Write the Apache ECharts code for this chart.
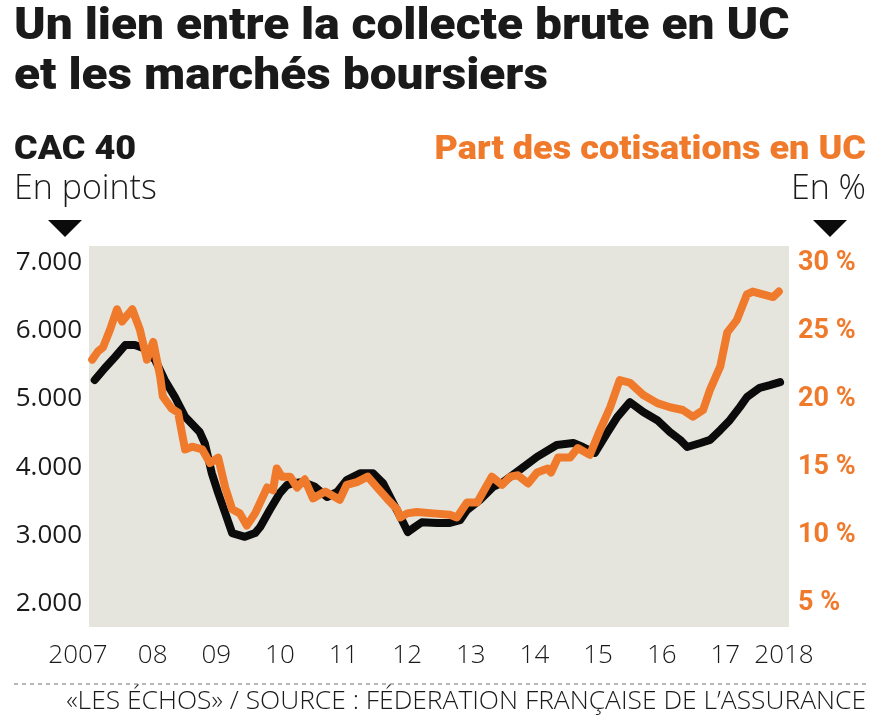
<!DOCTYPE html>
<html><head><meta charset="utf-8">
<script src="https://cdn.jsdelivr.net/npm/echarts@6/dist/echarts.min.js"></script>
<style>html,body{margin:0;padding:0;background:#fff}#c{width:874px;height:718px}</style>
</head><body><div id="c"></div>
<script>
// CAC 40 (points)
const cacYears = [2007.09,2007.25,2007.41,2007.57,2007.72,2007.85,2008.04,2008.19,2008.35,2008.51,2008.74,2008.82,2008.93,2009.03,2009.14,2009.25,2009.45,2009.61,2009.69,2009.84,2010.00,2010.11,2010.21,2010.36,2010.55,2010.74,2010.90,2011.05,2011.26,2011.46,2011.62,2011.78,2011.92,2012.01,2012.12,2012.23,2012.47,2012.67,2012.83,2012.94,2013.14,2013.35,2013.51,2013.77,2014.04,2014.35,2014.61,2014.76,2014.95,2015.14,2015.30,2015.50,2015.71,2015.93,2016.13,2016.29,2016.40,2016.61,2016.76,2016.92,2017.07,2017.23,2017.34,2017.54,2017.70,2017.86];
const cacValues = [5280,5457,5620,5795,5795,5750,5575,5280,5030,4740,4515,4350,3910,3620,3325,3030,2975,3030,3120,3370,3620,3735,3765,3780,3710,3560,3635,3810,3910,3910,3765,3470,3220,3045,3120,3190,3180,3180,3220,3370,3515,3710,3780,3960,4150,4325,4355,4295,4210,4500,4735,4955,4810,4690,4515,4400,4295,4355,4400,4545,4690,4885,5030,5165,5205,5250];
// Part des cotisations en UC (%)
const ucYears = [2007.05,2007.14,2007.22,2007.33,2007.44,2007.52,2007.68,2007.80,2007.91,2008.01,2008.12,2008.16,2008.30,2008.40,2008.51,2008.62,2008.78,2008.90,2009.03,2009.14,2009.25,2009.37,2009.48,2009.61,2009.80,2009.89,2009.95,2010.03,2010.16,2010.27,2010.39,2010.52,2010.71,2010.94,2011.05,2011.21,2011.38,2011.53,2011.68,2011.84,2011.89,2012.00,2012.15,2012.41,2012.67,2012.78,2012.94,2013.10,2013.33,2013.49,2013.62,2013.74,2013.90,2014.04,2014.21,2014.26,2014.37,2014.56,2014.68,2014.87,2015.03,2015.19,2015.34,2015.50,2015.71,2015.93,2016.13,2016.33,2016.49,2016.65,2016.76,2016.92,2017.03,2017.18,2017.34,2017.43,2017.59,2017.75,2017.84];
const ucValues = [22.9,23.5,23.8,25.1,26.6,25.7,26.6,25.1,22.9,24.2,21.6,20.2,19.3,19.0,16.3,16.5,16.3,15.3,15.7,13.5,11.9,11.6,10.7,11.6,13.5,13.3,14.9,14.3,14.3,13.5,14.1,12.7,13.2,12.6,13.7,13.9,14.3,13.5,12.7,11.9,11.3,11.6,11.7,11.6,11.5,11.3,12.4,12.4,14.3,13.7,14.3,14.4,13.8,14.6,14.9,14.6,15.7,15.7,16.4,15.9,17.7,19.4,21.4,21.2,20.3,19.7,19.4,19.2,18.7,19.2,20.7,22.4,24.9,25.8,27.7,27.9,27.7,27.5,27.9];
const yearTicks = [2007,2008,2009,2010,2011,2012,2013,2014,2015,2016,2017,2018];
const yearLabels = ['2007','08','09','10','11','12','13','14','15','16','17','2018'];
const cacTicks = [2000,3000,4000,5000,6000,7000];
const cacLabels = ['2.000','3.000','4.000','5.000','6.000','7.000'];
const ucTicks = [5,10,15,20,25,30];
const ucLabels = ['5 %','10 %','15 %','20 %','25 %','30 %'];

const ORANGE = '#f07a2c';
const LIGHT = '"Open Sans", sans-serif';
const BOLD = 'Roboto, sans-serif';

const chart = echarts.init(document.getElementById('c'), null, {renderer: 'canvas'});
const xRich = {
  n: {fontFamily: LIGHT, fontWeight: 300, fontSize: 26, color: '#1a1a1a'},
  first: {fontFamily: LIGHT, fontWeight: 300, fontSize: 26, color: '#1a1a1a', padding: [0, 22, 0, 0]},
  last: {fontFamily: LIGHT, fontWeight: 300, fontSize: 26, color: '#1a1a1a', padding: [0, 10, 0, 0]}
};
chart.setOption({
  animation: false,
  backgroundColor: '#ffffff',
  grid: {left: 89, right: 85, top: 246, bottom: 91, show: true, backgroundColor: '#e6e5dd', borderWidth: 0},
  xAxis: {
    type: 'value', min: 2007, max: 2018,
    axisLine: {show: false}, axisTick: {show: false}, splitLine: {show: false},
    axisLabel: {
      customValues: yearTicks, margin: 16,
      formatter: function (v) {
        const i = yearTicks.indexOf(Math.round(v));
        const t = yearLabels[i];
        if (i === 0) return '{first|' + t + '}';
        if (i === yearTicks.length - 1) return '{last|' + t + '}';
        return '{n|' + t + '}';
      },
      rich: xRich
    }
  },
  yAxis: [{
    type: 'value', min: 1650, max: 7250, position: 'left',
    axisLine: {show: false}, axisTick: {show: false}, splitLine: {show: false},
    axisLabel: {
      customValues: cacTicks, margin: 7,
      formatter: function (v) { return cacLabels[cacTicks.indexOf(Math.round(v))]; },
      fontFamily: LIGHT, fontWeight: 400, fontSize: 26, color: '#1a1a1a'
    }
  }, {
    type: 'value', min: 3.25, max: 31.25, position: 'right',
    axisLine: {show: false}, axisTick: {show: false}, splitLine: {show: false},
    axisLabel: {
      customValues: ucTicks, margin: 9,
      formatter: function (v) { return ucLabels[ucTicks.indexOf(Math.round(v))]; },
      fontFamily: BOLD, fontWeight: 700, fontSize: 27, color: ORANGE
    }
  }],
  series: [{
    type: 'line', yAxisIndex: 0, showSymbol: false, symbol: 'none',
    data: cacYears.map((y, i) => [y, cacValues[i]]),
    lineStyle: {color: '#0b0b0b', width: 8, cap: 'round', join: 'round'}
  }, {
    type: 'line', yAxisIndex: 1, showSymbol: false, symbol: 'none',
    data: ucYears.map((y, i) => [y, ucValues[i]]),
    lineStyle: {color: ORANGE, width: 8, cap: 'round', join: 'round'}
  }],
  graphic: [
    {type: 'text', x: 14, y: 6, scaleX: 1.087, style: {text: 'Un lien entre la collecte brute en UC', fontFamily: BOLD, fontWeight: 900, fontSize: 44, fill: '#1a1a1a'}},
    {type: 'text', x: 14, y: 56, scaleX: 1.087, style: {text: 'et les marchés boursiers', fontFamily: BOLD, fontWeight: 900, fontSize: 44, fill: '#1a1a1a'}},
    {type: 'text', x: 14, y: 133, scaleX: 1.06, style: {text: 'CAC 40', fontFamily: BOLD, fontWeight: 900, fontSize: 34, fill: '#1a1a1a'}},
    {type: 'text', left: 14, top: 172, style: {text: 'En points', fontFamily: LIGHT, fontWeight: 300, fontSize: 34, fill: '#1a1a1a'}},
    {type: 'text', x: 866, y: 133, scaleX: 1.06, style: {text: 'Part des cotisations en UC', align: 'right', fontFamily: BOLD, fontWeight: 900, fontSize: 34, fill: ORANGE}},
    {type: 'text', right: 8, top: 172, style: {text: 'En %', fontFamily: LIGHT, fontWeight: 300, fontSize: 34, fill: '#1a1a1a'}},
    {type: 'polygon', shape: {points: [[48, 220], [82, 220], [65, 237]]}, style: {fill: '#0b0b0b'}},
    {type: 'polygon', shape: {points: [[813, 220], [847, 220], [830, 237]]}, style: {fill: '#0b0b0b'}},
    {type: 'line', shape: {x1: 14, y1: 684, x2: 866, y2: 684}, style: {stroke: '#888', lineWidth: 1.2, lineDash: [4, 4]}},
    {type: 'text', right: 8, top: 688, style: {text: '«LES ÉCHOS» / SOURCE : FÉDERATION FRANÇAISE DE L\u2019ASSURANCE', fontFamily: LIGHT, fontWeight: 300, fontSize: 26.4, fill: '#1a1a1a'}}
  ]
});
</script></body></html>
